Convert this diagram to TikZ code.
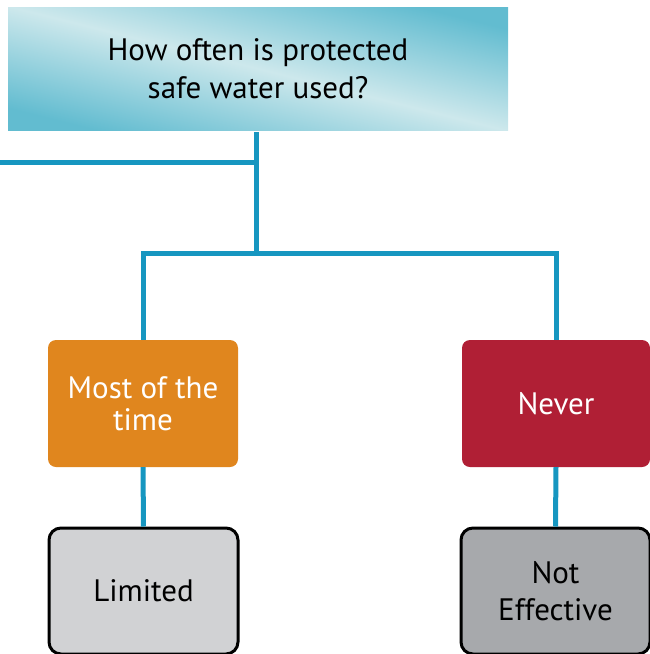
\documentclass[tikz,border=0pt]{standalone}
\usepackage{fontspec}
\setmainfont{PT Sans}
\definecolor{teal1}{RGB}{98,188,208}
\definecolor{teal2}{RGB}{205,232,236}
\definecolor{linec}{RGB}{22,150,192}
\definecolor{orangec}{RGB}{224,134,30}
\definecolor{redc}{RGB}{176,31,53}
\definecolor{lgray}{RGB}{209,210,212}
\definecolor{dgray}{RGB}{167,169,172}
\begin{document}
\begin{tikzpicture}[x=1pt,y=-1pt,
  conn/.style={draw=linec,line width=5pt},
  qbox/.style={rectangle,minimum width=500pt,minimum height=123pt,inner sep=0pt,
    top color=teal1,bottom color=teal1,middle color=teal2,shading angle=-14,
    align=center,font=\fontsize{31}{38}\selectfont,text=black},
  cbox/.style={rectangle,rounded corners=8pt,minimum width=190pt,minimum height=127pt,
    inner sep=0pt,align=center,font=\fontsize{31}{32}\selectfont,text=white},
  rbox/.style={rectangle,rounded corners=12pt,draw=black,line width=3pt,minimum width=189pt,
    minimum height=126pt,inner sep=0pt,align=center,font=\fontsize{31}{37}\selectfont,text=black}]
\useasboundingbox (0,0) rectangle (650,654);
\clip (0,0) rectangle (650,654);
\node[qbox] (q) at (258,68.5) {How often is protected\\ safe water used?};
\node[cbox,fill=orangec] (a) at (143,403.5) {Most of the\\ time};
\node[cbox,fill=redc,minimum width=188pt] (b) at (556,403.5) {Never};
\node[rbox,fill=lgray] (l) at (143.5,591) {Limited};
\node[rbox,fill=dgray] (n) at (555.5,591) {Not\\ Effective};
\coordinate (top) at (256,132);
\coordinate (lj) at (256,162);
\coordinate (le) at (0,162);
\coordinate (j) at (256,253);
\coordinate (ja) at (143,253);
\coordinate (jb) at (556,253);
\draw[conn] (top) -- (j);
\draw[conn] (le) -- (lj);
\draw[conn,line join=miter] (a.north) -- (ja) -- (jb) -- (b.north);
\draw[conn] (a.south) -- (l.north);
\draw[conn] (b.south) -- (n.north);
\end{tikzpicture}
\end{document}
